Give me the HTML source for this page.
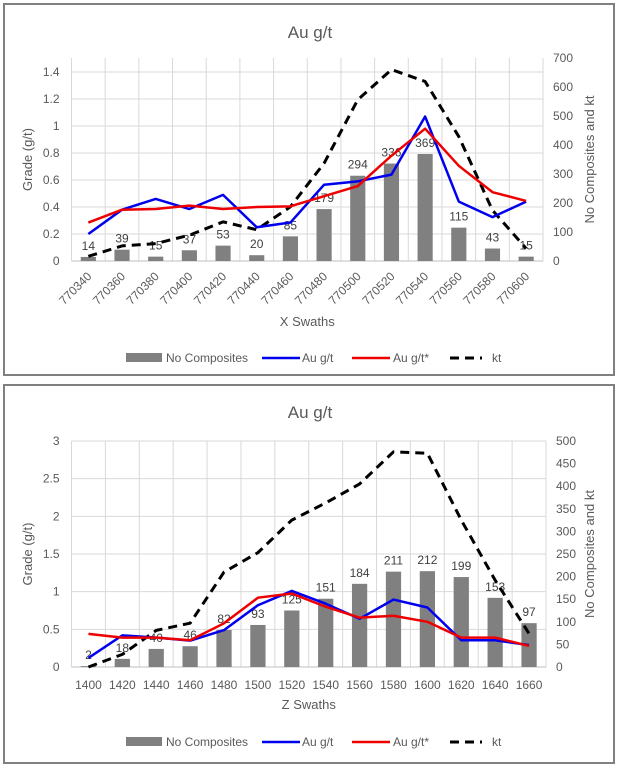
<!DOCTYPE html>
<html><head><meta charset="utf-8"><style>
body{margin:0;background:#fff;font-family:"Liberation Sans",sans-serif}
svg{display:block}
text{font-family:"Liberation Sans",sans-serif;fill:#595959}
</style></head><body>
<svg id="s" width="620" height="771" viewBox="0 0 620 771"></svg>
<script>
const topCats=["770340","770360","770380","770400","770420","770440","770460","770480","770500","770520","770540","770560","770580","770600"];
const topBars=[14,39,15,37,53,20,85,179,294,336,369,115,43,15];
const topAu=[0.2,0.38,0.46,0.385,0.49,0.25,0.285,0.565,0.59,0.64,1.07,0.44,0.325,0.44];
const topAuStar=[0.285,0.38,0.385,0.41,0.385,0.4,0.405,0.48,0.555,0.78,0.98,0.705,0.51,0.445];
const topKt=[16,52,60,89,135,108,187,337,556,660,619,429,175,43];
const topLeftTicks=["0","0.2","0.4","0.6","0.8","1","1.2","1.4"];
const topRightTicks=["0","100","200","300","400","500","600","700"];
const botCats=["1400","1420","1440","1460","1480","1500","1520","1540","1560","1580","1600","1620","1640","1660"];
const botBars=[2,18,40,46,82,93,125,151,184,211,212,199,153,97];
const botAu=[0.12,0.42,0.39,0.35,0.49,0.82,1.01,0.84,0.64,0.895,0.79,0.355,0.355,0.29];
const botAuStar=[0.44,0.39,0.39,0.355,0.58,0.92,0.975,0.8,0.655,0.68,0.6,0.39,0.39,0.28];
const botKt=[0,28,81,97,210,253,325,363,405,476,473,325,192,74];
const botLeftTicks=["0","0.5","1","1.5","2","2.5","3"];
const botRightTicks=["0","50","100","150","200","250","300","350","400","450","500"];

const svg=document.getElementById('s');
const NS="http://www.w3.org/2000/svg";
function el(tag,attrs,parent){const e=document.createElementNS(NS,tag);for(const k in attrs)e.setAttribute(k,attrs[k]);(parent||svg).appendChild(e);return e;}
function txt(x,y,s,size,anchor,parent,extra){const t=el('text',Object.assign({x:x,y:y,'font-size':size,'text-anchor':anchor||'middle'},extra||{}),parent);t.textContent=s;return t;}

function chart(o){
  const g=el('g',{});
  
  
  const frame=el('rect',{x:o.fx,y:o.fy,width:o.fw,height:o.fh,fill:'#fff',stroke:'#808080','stroke-width':2},g);
  
  
  const title=txt(310,o.titleY,'Au g/t',17,'middle',g);
  
  
  const L=o.left,R=o.right,T=o.top,B=o.bottom,n=o.cats.length,bw=(R-L)/n;
  const xc=i=>L+bw*(i+0.5);
  const yl=v=>B-(v/o.lmax)*(B-T)*o.lfrac;
  const yr=v=>B-(v/o.rmax)*(B-T);
  // gridlines
  o.lticks.forEach((t,i)=>{const v=parseFloat(t);const y=yl(v);
    const gl=el('line',{x1:L,x2:R,y1:y,y2:y,stroke:'#d9d9d9','stroke-width':1},g);
    
    const tl=txt(L-12,y+4,t,12,'end',g);});
  o.rticks.forEach(t=>{const y=yr(parseFloat(t));
    const tl=txt(R+10,y+4,t,12,'start',g);});
  for(let i=0;i<=n;i++){const x=L+bw*i;
    const vl=el('line',{x1:x,x2:x,y1:T,y2:B,stroke:'#d9d9d9','stroke-width':1},g);
    }
  el('line',{x1:L,x2:R,y1:B,y2:B,stroke:'#bfbfbf'},g);
  // bars
  o.bars.forEach((v,i)=>{const w=bw*0.45;
    const b=el('rect',{x:xc(i)-w/2,y:yr(v),width:w,height:B-yr(v),fill:'#808080'},g);
    });
  function line(arr,f,color,dash,name){
    const p=el('polyline',{points:arr.map((v,i)=>xc(i)+','+f(v)).join(' '),fill:'none',stroke:color,'stroke-width':dash?3:2.5,'stroke-dasharray':dash?'9,6':'none','stroke-linejoin':'round'},g);
    }
  // labels
  o.bars.forEach((v,i)=>{const t=txt(xc(i),yr(v)-7,String(v),12,'middle',g,{style:'fill:#404040'});
    });
  line(o.kt,yr,'#000',true,'kt-line');
  line(o.au,yl,'#0000ee',false,'au-line');
  line(o.aus,yl,'#ee0000',false,'au-star-line');
  // x labels
  o.cats.forEach((c,i)=>{let t;
    if(o.rotate){t=txt(xc(i)+4,B+16,c,12,'end',g,{transform:'rotate(-45 '+(xc(i)+4)+' '+(B+16)+')'});}
    else t=txt(xc(i),B+22,c,12,'middle',g);
    });
  const xt=txt((L+R)/2,o.xTitleY,o.xTitle,13,'middle',g);
  const ly=(T+B)/2;
  const yt=txt(32,ly,'Grade (g/t)',13,'middle',g,{transform:'rotate(-90 32 '+ly+')'});
  const y2=txt(594,ly,'No Composites and kt',13,'middle',g,{transform:'rotate(-90 594 '+ly+')'});
  // legend
  const lg=el('g',{},g);
  const y=o.legY;
  el('rect',{x:126,y:y-5,width:36,height:9,fill:'#808080'},lg);txt(166,y+4,'No Composites',12,'start',lg);
  el('line',{x1:262,x2:300,y1:y,y2:y,stroke:'#0000ee','stroke-width':2.5},lg);txt(302,y+4,'Au g/t',12,'start',lg);
  el('line',{x1:352,x2:390,y1:y,y2:y,stroke:'#ee0000','stroke-width':2.5},lg);txt(393,y+4,'Au g/t*',12,'start',lg);
  el('line',{x1:450,x2:482,y1:y,y2:y,stroke:'#000','stroke-width':3,'stroke-dasharray':'9,6'},lg);txt(492,y+4,'kt',12,'start',lg);
}
chart({name:'x-swaths-chart',fx:4,fy:4,fw:610,fh:371,titleY:38,left:71.5,right:543,top:58,bottom:261,lmax:1.4,lfrac:(261-72)/(261-58),rmax:700,
  cats:topCats,bars:topBars,au:topAu,aus:topAuStar,kt:topKt,lticks:topLeftTicks,rticks:topRightTicks,rotate:true,xTitle:'X Swaths',xTitleY:326,legY:358});
chart({name:'z-swaths-chart',fx:4,fy:385,fw:610,fh:378,titleY:418,left:71.5,right:546,top:441,bottom:667,lmax:3,lfrac:1,rmax:500,
  cats:botCats,bars:botBars,au:botAu,aus:botAuStar,kt:botKt,lticks:botLeftTicks,rticks:botRightTicks,rotate:false,xTitle:'Z Swaths',xTitleY:709,legY:742});
</script>
</body></html>
